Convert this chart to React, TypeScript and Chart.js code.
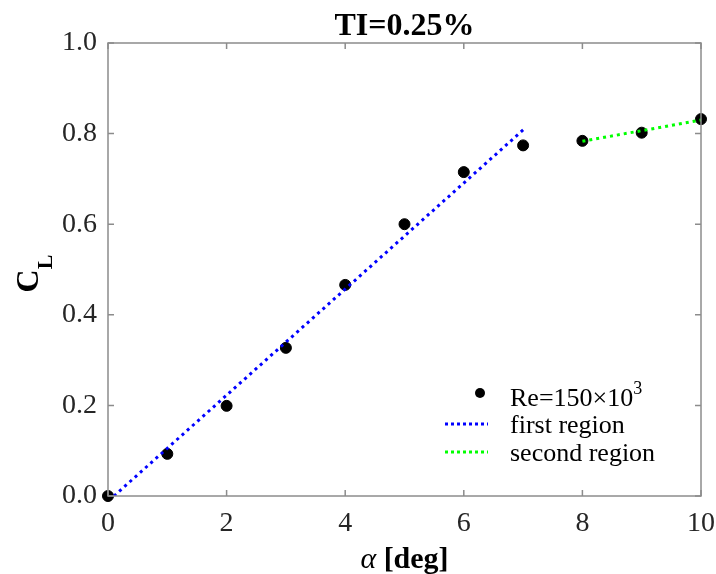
import React, { useEffect, useRef } from "react";
import { Chart, registerables } from "chart.js";

Chart.register(...registerables);

const alphaDeg = [0, 1, 2, 3, 4, 5, 6, 7, 8, 9, 10];
const clValues = [0.0, 0.093, 0.199, 0.327, 0.466, 0.6, 0.715, 0.774, 0.784, 0.802, 0.832];
const firstRegionAlpha = [0.1, 7.0];
const firstRegionCl = [0.0, 0.808];
const secondRegionAlpha = [8, 10];
const secondRegionCl = [0.783, 0.83];
const xTicks = [0, 2, 4, 6, 8, 10];
const yTicks = [0, 0.2, 0.4, 0.6, 0.8, 1.0];
const titleText = "TI=0.25%";
const legendLabels = ["Re=150\u00d710", "first region", "second region"];

const SERIF = "'Liberation Serif', 'Times New Roman', serif";
const AXIS_COLOR = "#8c8c8c";
const TICK_TEXT = "#262626";

const framePlugin = {
  id: "frame",
  afterDraw(chart: any) {
    const { ctx, chartArea: a, scales } = chart;
    const xs = scales.x;
    const ys = scales.y;
    ctx.save();
    // box
    ctx.strokeStyle = AXIS_COLOR;
    ctx.lineWidth = 1.5;
    ctx.strokeRect(a.left, a.top, a.right - a.left, a.bottom - a.top);
    // inward ticks
    const tl = 6;
    ctx.beginPath();
    xTicks.forEach((v) => {
      const px = xs.getPixelForValue(v);
      ctx.moveTo(px, a.bottom);
      ctx.lineTo(px, a.bottom - tl);
      ctx.moveTo(px, a.top);
      ctx.lineTo(px, a.top + tl);
    });
    yTicks.forEach((v) => {
      const py = ys.getPixelForValue(v);
      ctx.moveTo(a.left, py);
      ctx.lineTo(a.left + tl, py);
      ctx.moveTo(a.right, py);
      ctx.lineTo(a.right - tl, py);
    });
    ctx.stroke();

    // title
    const cx = (a.left + a.right) / 2;
    ctx.fillStyle = "#000";
    ctx.textAlign = "center";
    ctx.textBaseline = "alphabetic";
    ctx.font = `bold 32px ${SERIF}`;
    ctx.fillText(titleText, cx, a.top - 8);

    // x label
    ctx.font = `italic 30px ${SERIF}`;
    const aW = ctx.measureText("\u03b1").width;
    ctx.font = `bold 30px ${SERIF}`;
    const dW = ctx.measureText(" [deg]").width;
    const startX = cx - (aW + dW) / 2;
    ctx.textAlign = "left";
    ctx.font = `italic 30px ${SERIF}`;
    ctx.fillText("\u03b1", startX, a.bottom + 72);
    ctx.font = `bold 30px ${SERIF}`;
    ctx.fillText(" [deg]", startX + aW, a.bottom + 72);

    // y label C_L
    const cy = (a.top + a.bottom) / 2 + 4;
    ctx.save();
    ctx.translate(38, cy);
    ctx.rotate(-Math.PI / 2);
    ctx.font = `bold 32px ${SERIF}`;
    const cW = ctx.measureText("C").width;
    ctx.font = `bold 22px ${SERIF}`;
    const lW = ctx.measureText("L").width;
    const tot = cW + lW;
    ctx.textAlign = "left";
    ctx.font = `bold 32px ${SERIF}`;
    ctx.fillText("C", -tot / 2, 0);
    ctx.font = `bold 22px ${SERIF}`;
    ctx.fillText("L", -tot / 2 + cW, 14);
    ctx.restore();

    // legend
    const lx = a.left + 402; // text x
    const rows = [a.bottom - 90, a.bottom - 63, a.bottom - 35];
    ctx.font = `26px ${SERIF}`;
    ctx.fillStyle = "#000";
    ctx.textAlign = "left";
    ctx.beginPath();
    ctx.arc(lx - 30, rows[0] - 13, 5, 0, Math.PI * 2);
    ctx.fill();
    ctx.fillText(legendLabels[0], lx, rows[0]);
    const reW = ctx.measureText(legendLabels[0]).width;
    ctx.font = `18px ${SERIF}`;
    ctx.fillText("3", lx + reW, rows[0] - 12);
    ctx.font = `26px ${SERIF}`;
    const sample = (y: number, color: string) => {
      ctx.save();
      ctx.strokeStyle = color;
      ctx.lineWidth = 3;
      ctx.setLineDash([3, 3]);
      ctx.beginPath();
      ctx.moveTo(lx - 65, y);
      ctx.lineTo(lx - 22, y);
      ctx.stroke();
      ctx.restore();
    };
    sample(rows[1] - 9, "#0000ff");
    ctx.fillText(legendLabels[1], lx, rows[1]);
    sample(rows[2] - 9, "#00ff00");
    ctx.fillText(legendLabels[2], lx, rows[2]);
    ctx.restore();
  },
};

export default function App() {
  const ref = useRef<HTMLCanvasElement | null>(null);
  useEffect(() => {
    document.body.style.margin = "0";
    const canvas = ref.current!;
    const chart = new Chart(canvas, {
      type: "scatter",
      data: {
        datasets: [
          {
            label: "first region",
            data: firstRegionAlpha.map((x, i) => ({ x, y: firstRegionCl[i] })),
            showLine: true,
            borderColor: "#0000ff",
            borderWidth: 3,
            borderDash: [3, 4],
            pointRadius: 0,
            fill: false,
          },
          {
            label: "second region",
            data: secondRegionAlpha.map((x, i) => ({ x, y: secondRegionCl[i] })),
            showLine: true,
            borderColor: "#00ff00",
            borderWidth: 3,
            borderDash: [3, 4],
            pointRadius: 0,
            fill: false,
          },
          {
            label: "Re=150x10^3",
            data: alphaDeg.map((x, i) => ({ x, y: clValues[i] })),
            backgroundColor: "#000",
            borderColor: "#000",
            pointRadius: 5.5,
            pointHoverRadius: 5.5,
            clip: false as any,
          },
        ],
      },
      options: {
        responsive: false,
        animation: false,
        events: [],
        layout: { padding: { top: 43, right: 15, left: 0, bottom: 0 } },
        plugins: {
          legend: { display: false },
          tooltip: { enabled: false },
          title: { display: false },
        },
        scales: {
          x: {
            type: "linear",
            min: 0,
            max: 10,
            afterFit: (s: any) => {
              s.height = 78;
              s.paddingLeft = 0;
              s.paddingRight = 0;
            },
            afterBuildTicks: (s: any) => {
              s.ticks = xTicks.map((v) => ({ value: v }));
            },
            grid: { display: false, drawTicks: false },
            border: { display: false },
            ticks: {
              padding: 11,
              color: TICK_TEXT,
              font: { family: SERIF, size: 28 },
              maxRotation: 0,
              callback: (v: any) => String(v),
            },
          },
          y: {
            type: "linear",
            min: 0,
            max: 1,
            afterFit: (s: any) => {
              s.width = 108;
              s.paddingTop = 0;
              s.paddingBottom = 0;
            },
            afterBuildTicks: (s: any) => {
              s.ticks = yTicks.map((v) => ({ value: v }));
            },
            grid: { display: false, drawTicks: false },
            border: { display: false },
            ticks: {
              padding: 11,
              color: TICK_TEXT,
              font: { family: SERIF, size: 28 },
              callback: (v: any) => Number(v).toFixed(1),
            },
          },
        },
      },
      plugins: [framePlugin],
    });
    return () => chart.destroy();
  }, []);
  return (
    <div>
      <canvas ref={ref} width={716} height={574} style={{ display: "block" }} />
    </div>
  );
}
